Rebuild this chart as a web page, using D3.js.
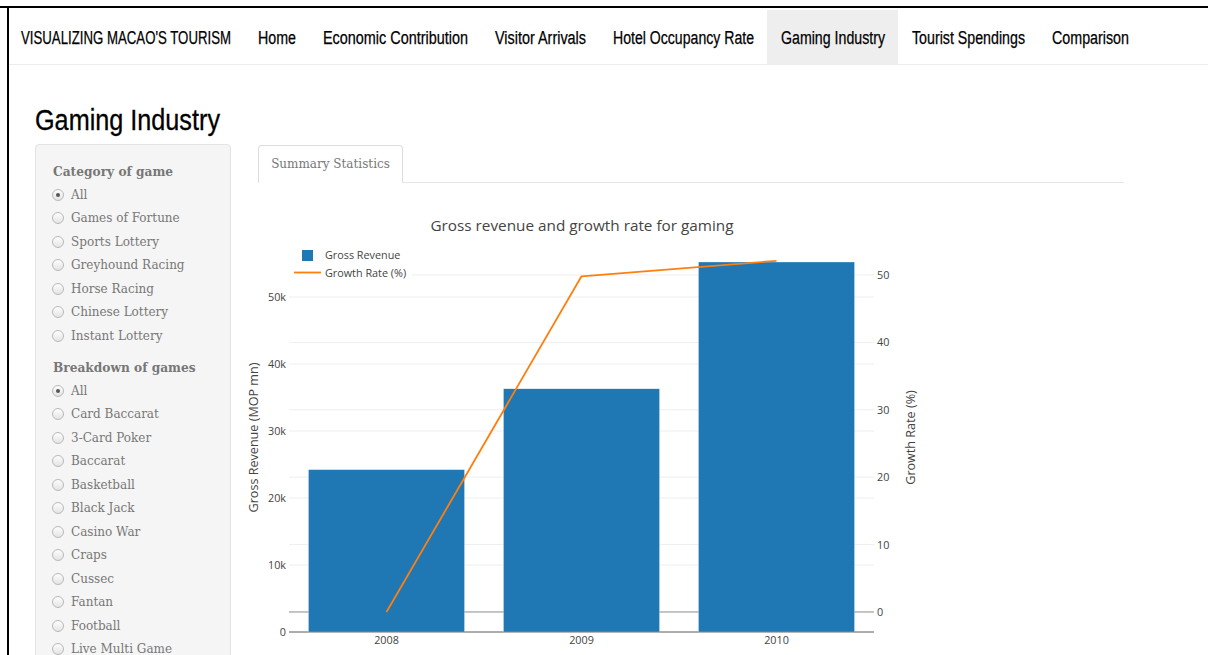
<!DOCTYPE html>
<html>
<head>
<meta charset="utf-8">
<script src="https://cdn.jsdelivr.net/npm/d3@7"></script>
<style>
  html, body { margin: 0; padding: 0; width: 1208px; height: 655px; overflow: hidden; background: #fff; }
  .frame-top { position: absolute; left: 0; top: 6px; width: 1208px; height: 2px; background: #000; }
  .frame-left { position: absolute; left: 7px; top: 6px; width: 2px; height: 649px; background: #000; }
  .nav { position: absolute; left: 9px; top: 8px; width: 1199px; height: 56px; border-bottom: 1px solid #ececec;
         font-family: "Liberation Sans", Arial, sans-serif; font-size: 18px; color: #000; }
  .nav .item { position: absolute; top: 2px; height: 54px; line-height: 57px; white-space: nowrap; }
  .nav .item span { display: inline-block; transform-origin: 0 50%; -webkit-text-stroke: 0.25px #000; }
  .nav .active-bg { position: absolute; top: 2px; height: 54px; background: #eeeeee; }
  .page { position: absolute; left: 35px; top: 106px; margin: 0; font-weight: normal; white-space: nowrap;
          font-family: "Liberation Sans", Arial, sans-serif; font-size: 29px; line-height: 29px; color: #000; }
  .page span { display: inline-block; transform-origin: 0 50%; -webkit-text-stroke: 0.3px #000; }
  .well { position: absolute; left: 35px; top: 144px; width: 194px; height: 540px; background: #f5f5f5;
          border: 1px solid #e3e3e3; border-radius: 4px; }
  .side { position: absolute; left: 0; top: 1px; font-family: "DejaVu Serif", Georgia, serif; color: #777; }
  .side .hd { position: absolute; left: 53px; font-weight: bold; font-size: 12.2px; line-height: 20px; white-space: nowrap; }
  .side .row { position: absolute; left: 52px; height: 20px; line-height: 20px; font-size: 12px; white-space: nowrap; }
  .side .radio { position: absolute; left: 0; top: 4px; width: 10px; height: 10px; border-radius: 50%;
                 border: 1px solid #b9b9b9; background: linear-gradient(#fdfdfd, #e4e4e4); }
  .side .radio.on::after { content: ""; position: absolute; left: 3px; top: 3px; width: 4px; height: 4px; border-radius: 50%; background: #555; }
  .side .lbl { position: absolute; left: 19px; top: 0; }
  .tab { position: absolute; left: 258px; top: 145px; width: 143px; height: 37px; border: 1px solid #ddd; border-bottom: none;
         border-radius: 4px 4px 0 0; background: #fff; font-family: "DejaVu Serif", Georgia, serif; font-size: 12px; color: #777;
         line-height: 37px; text-align: center; }
  .tabline { position: absolute; left: 402px; top: 182px; width: 722px; height: 1px; background: #e6e6e6; }
  svg.chart { position: absolute; left: 0; top: 0; }
</style>
</head>
<body>
<div class="frame-top"></div>
<div class="frame-left"></div>
<div class="nav" id="nav"></div>
<h1 class="page"><span id="pageTitle">Gaming Industry</span></h1>
<div class="well"></div>
<div class="side" id="side"></div>
<div class="tab">Summary Statistics</div>
<div class="tabline"></div>
<svg class="chart" id="chart" width="1208" height="655"></svg>

<script>
// ---- page text ----
const navBrand = "VISUALIZING MACAO'S TOURISM";
const navItems = ["Home", "Economic Contribution", "Visitor Arrivals", "Hotel Occupancy Rate",
                  "Gaming Industry", "Tourist Spendings", "Comparison"];
const activeNav = "Gaming Industry";

const categoryTitle = "Category of game";
const categories = ["All", "Games of Fortune", "Sports Lottery", "Greyhound Racing",
                    "Horse Racing", "Chinese Lottery", "Instant Lottery"];
const breakdownTitle = "Breakdown of games";
const breakdown = ["All", "Card Baccarat", "3-Card Poker", "Baccarat", "Basketball", "Black Jack",
                   "Casino War", "Craps", "Cussec", "Fantan", "Football", "Live Multi Game"];

// ---- chart data ----
const years = ["2008", "2009", "2010"];
const grossRevenue = [24230, 36300, 55220];   // MOP mn
const growthRate = [0, 49.8, 52.1];           // %
const revenueTicks = [0, 10000, 20000, 30000, 40000, 50000];
const growthTicks = [0, 10, 20, 30, 40, 50];
const chartTitle = "Gross revenue and growth rate for gaming";
const seriesNames = ["Gross Revenue", "Growth Rate (%)"];
const leftTitle = "Gross Revenue (MOP mn)";
const rightTitle = "Growth Rate (%)";

// condensed headline face: squeeze text horizontally to a set width
function fitWidth(el, w) {
  const r = el.getBoundingClientRect().width;
  if (r > 0) el.style.transform = `scaleX(${w / r})`;
}

// ---- navbar ----
const navLeft = [258, 323, 495, 613, 781, 912, 1052];
const navW = [38, 145, 91, 141, 104, 113, 77];
const nav = d3.select("#nav");
nav.append("div").attr("class", "active-bg")
   .style("left", (767 - 9) + "px").style("width", "131px");
const brand = nav.append("div").attr("class", "item").style("left", (21 - 9) + "px")
   .append("span").text(navBrand);
fitWidth(brand.node(), 210);
nav.selectAll("div.link").data(navItems).enter().append("div")
   .attr("class", "item link").style("left", (d, i) => (navLeft[i] - 9) + "px")
   .append("span").text(d => d)
   .each(function (d, i) { fitWidth(this, navW[i]); });
fitWidth(document.getElementById("pageTitle"), 185);

// ---- sidebar ----
const side = d3.select("#side");
function group(title, items, top) {
  side.append("div").attr("class", "hd").style("top", (top - 10) + "px").text(title);
  const rows = side.selectAll(null).data(items).enter().append("div").attr("class", "row")
    .style("top", (d, i) => (top + 23 + i * 23.45 - 10) + "px");
  rows.append("div").attr("class", (d, i) => i === 0 ? "radio on" : "radio");
  rows.append("div").attr("class", "lbl").text(d => d);
}
group(categoryTitle, categories, 171);
group(breakdownTitle, breakdown, 367);

// ---- chart ----
const svg = d3.select("#chart");
const plot = { left: 289, right: 874, top: 243, bottom: 632 };
const font = "'Open Sans', sans-serif";

const x = d3.scaleBand().domain(years).range([plot.left, plot.right]).paddingInner(0.2).paddingOuter(0.1);
const yL = d3.scaleLinear().domain([0, 58060]).range([plot.bottom, plot.top]);
const yR = d3.scaleLinear().domain([-2.97, 54.74]).range([plot.bottom, plot.top]);

// gridlines
const grid = svg.append("g");
grid.selectAll("line.gl").data(revenueTicks.filter(d => d > 0)).enter().append("line")
  .attr("x1", plot.left).attr("x2", plot.right)
  .attr("y1", d => yL(d)).attr("y2", d => yL(d)).attr("stroke", "#eeeeee").attr("stroke-width", 1);
grid.selectAll("line.gr").data(growthTicks.filter(d => d > 0)).enter().append("line")
  .attr("x1", plot.left).attr("x2", plot.right)
  .attr("y1", d => yR(d)).attr("y2", d => yR(d)).attr("stroke", "#eeeeee").attr("stroke-width", 1);

// zero lines
svg.append("line").attr("x1", plot.left).attr("x2", plot.right)
  .attr("y1", yR(0)).attr("y2", yR(0)).attr("stroke", "#8a8a8a").attr("stroke-width", 1);
svg.append("line").attr("x1", plot.left).attr("x2", plot.right)
  .attr("y1", yL(0)).attr("y2", yL(0)).attr("stroke", "#5a5a5a").attr("stroke-width", 1);

// bars
svg.append("g").selectAll("rect").data(years).enter().append("rect")
  .attr("x", d => x(d)).attr("width", x.bandwidth())
  .attr("y", (d, i) => yL(grossRevenue[i])).attr("height", (d, i) => yL(0) - yL(grossRevenue[i]))
  .attr("fill", "#1f77b4").attr("stroke", "#ffffff").attr("stroke-opacity", 0.5).attr("stroke-width", 0.5);

// growth line
const line = d3.line().x((d, i) => x(years[i]) + x.bandwidth() / 2).y(d => yR(d));
svg.append("path").datum(growthRate).attr("d", line)
  .attr("fill", "none").attr("stroke", "#ff7f0e").attr("stroke-width", 1.8).attr("stroke-linejoin", "round");

// axes
const axL = svg.append("g").attr("transform", `translate(${plot.left},0)`)
  .call(d3.axisLeft(yL).tickValues(revenueTicks).tickSize(0).tickPadding(3)
        .tickFormat(d => d === 0 ? "0" : (d / 1000) + "k"));
const axR = svg.append("g").attr("transform", `translate(${plot.right},0)`)
  .call(d3.axisRight(yR).tickValues(growthTicks).tickSize(0).tickPadding(3));
const axB = svg.append("g").attr("transform", `translate(0,${plot.bottom})`)
  .call(d3.axisBottom(x).tickSize(0).tickPadding(4));
[axL, axR, axB].forEach(a => {
  a.select(".domain").remove();
  a.selectAll("text").attr("fill", "#444").style("font-family", font).style("font-size", "10.8px");
});

// titles
svg.append("text").attr("x", 582).attr("y", 226).attr("dy", "0.35em").attr("text-anchor", "middle")
  .attr("fill", "#444").style("font-family", font).style("font-size", "15.3px").text(chartTitle);
svg.append("text").attr("transform", "translate(254,437.5) rotate(-90)").attr("dy", "0.35em")
  .attr("text-anchor", "middle").attr("fill", "#444").style("font-family", font).style("font-size", "12.6px").text(leftTitle);
svg.append("text").attr("transform", "translate(911,437.5) rotate(-90)").attr("dy", "0.35em")
  .attr("text-anchor", "middle").attr("fill", "#444").style("font-family", font).style("font-size", "12.6px").text(rightTitle);

// legend
const lg = svg.append("g");
lg.append("rect").attr("x", plot.left).attr("y", 244).attr("width", 123).attr("height", 38).attr("fill", "#fff");
lg.append("rect").attr("x", 302).attr("y", 250).attr("width", 11).attr("height", 11).attr("fill", "#1f77b4");
lg.append("line").attr("x1", 294).attr("x2", 321).attr("y1", 272.5).attr("y2", 272.5)
  .attr("stroke", "#ff7f0e").attr("stroke-width", 1.8);
lg.selectAll("text").data(seriesNames).enter().append("text")
  .attr("x", 325).attr("y", (d, i) => 255.5 + i * 17.5).attr("dy", "0.35em")
  .attr("fill", "#444").style("font-family", font).style("font-size", "10.8px").text(d => d);
</script>
</body>
</html>
